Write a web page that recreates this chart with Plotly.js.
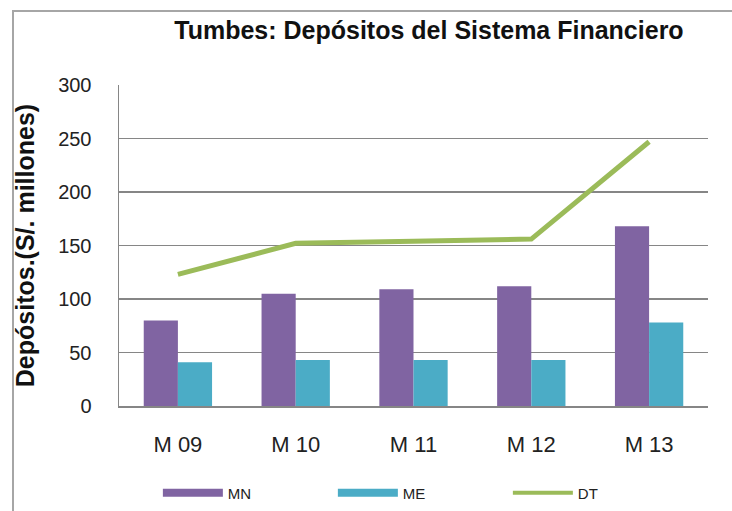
<!DOCTYPE html>
<html>
<head>
<meta charset="utf-8">
<script src="https://cdn.plot.ly/plotly-3.0.1.min.js"></script>
<style>
  html, body { margin: 0; padding: 0; background: #fff; }
  #chart { width: 732px; height: 511px; position: relative; }
  #frame { position: absolute; left: 12px; top: 10px; width: 730px; height: 510px;
           border-left: 2px solid #a6a6a6; border-top: 2px solid #a6a6a6; pointer-events: none; }
</style>
</head>
<body>
<div id="chart"></div>
<div id="frame"></div>
<script>
const categories = ["M 09", "M 10", "M 11", "M 12", "M 13"];
const mnValues = [80, 105, 109, 112, 168];
const meValues = [41, 43, 43, 43, 78];
const dtValues = [123, 152, 154, 156, 247];
const yTicks = [0, 50, 100, 150, 200, 250, 300];

const colMN = "#8064A2", colME = "#4BACC6", colDT = "#9BBB59";
const font = "Liberation Sans, Arial, sans-serif";

const traces = [
  { type: "bar", name: "MN", x: categories, y: mnValues, marker: { color: colMN }, showlegend: false },
  { type: "bar", name: "ME", x: categories, y: meValues, marker: { color: colME }, showlegend: false },
  { type: "scatter", mode: "lines", name: "DT", x: categories, y: dtValues,
    line: { color: colDT, width: 5 }, showlegend: false },
  // legend entries styled like the original (thick line samples)
  { type: "scatter", mode: "lines", name: "MN", x: categories, y: categories.map(() => null),
    line: { color: colMN, width: 8 }, hoverinfo: "skip" },
  { type: "scatter", mode: "lines", name: "ME", x: categories, y: categories.map(() => null),
    line: { color: colME, width: 8 }, hoverinfo: "skip" },
  { type: "scatter", mode: "lines", name: "DT", x: categories, y: categories.map(() => null),
    line: { color: colDT, width: 4 }, hoverinfo: "skip" }
];

const layout = {
  width: 732, height: 511,
  margin: { l: 119, r: 24, t: 85, b: 105 },
  paper_bgcolor: "#fff", plot_bgcolor: "#fff",
  font: { family: font, color: "#222" },
  title: { text: "Tumbes: Depósitos del Sistema Financiero",
           font: { family: font, size: 25, color: "#111", weight: "bold" },
           x: 0.586, xref: "container", xanchor: "center",
           y: 0.94, yref: "container", yanchor: "middle" },
  barmode: "group", bargap: 0.42, bargroupgap: 0,
  xaxis: {
    type: "category", automargin: false,
    showline: true, linecolor: "#868686", linewidth: 1.5,
    ticks: "", showgrid: false,
    tickfont: { family: font, size: 22, color: "#222" },
    ticklabelstandoff: 18
  },
  yaxis: {
    range: [0, 300], tickvals: yTicks, ticktext: yTicks.map(String), automargin: false,
    showline: true, linecolor: "#868686", linewidth: 1.5,
    showgrid: true, gridcolor: "#868686", gridwidth: 1.5,
    zeroline: false, ticks: "",
    tickfont: { family: font, size: 20, color: "#222" },
    ticklabelstandoff: 22,
    title: { text: "Depósitos.(S/. millones)", standoff: 16,
             font: { family: font, size: 25, color: "#111", weight: "bold" } }
  },
  legend: {
    orientation: "h", x: 0.066, xanchor: "left",
    yref: "container", y: 0.035, yanchor: "middle",
    font: { family: font, size: 15, color: "#222" },
    entrywidth: 100, entrywidthmode: "pixels", itemwidth: 60
  }
};

Plotly.newPlot("chart", traces, layout, { displayModeBar: false, staticPlot: true });
</script>
</body>
</html>
